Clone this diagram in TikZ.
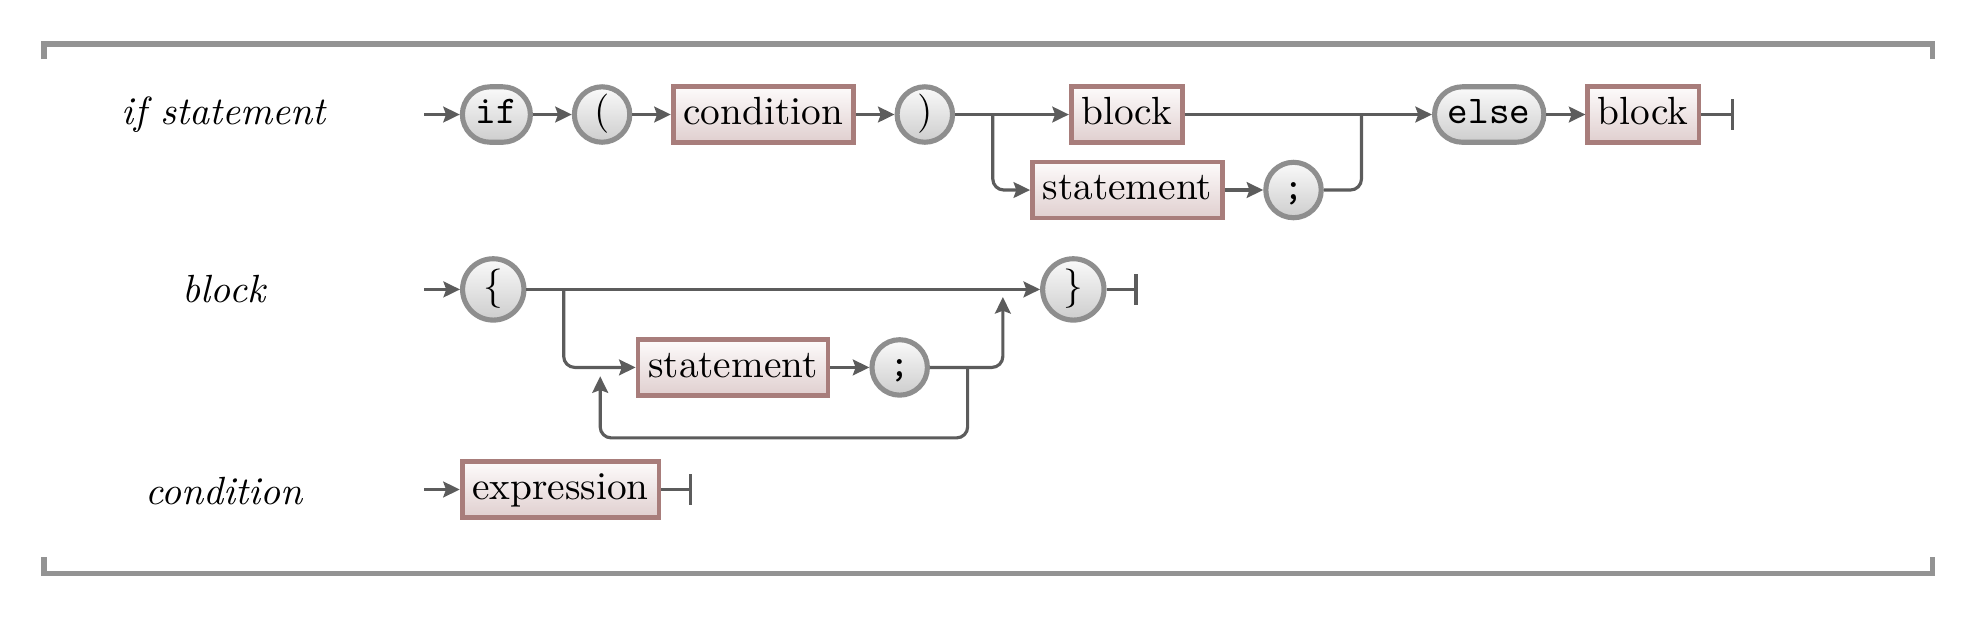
\documentclass[tikz,border=0pt]{standalone}
\usetikzlibrary{arrows.meta}
\definecolor{linec}{HTML}{5C5C5C}
\definecolor{framec}{HTML}{939393}
\definecolor{termborder}{HTML}{8E8E8E}
\definecolor{termtop}{HTML}{FAFAFA}
\definecolor{termbot}{HTML}{CDCDCD}
\definecolor{ntborder}{HTML}{A87D7B}
\definecolor{nttop}{HTML}{FDFBFB}
\definecolor{ntbot}{HTML}{E0CFCF}
\begin{document}
\begin{tikzpicture}[x=0.32pt,y=-0.32pt,
  term/.style={draw=termborder, line width=1.3pt, top color=termtop, bottom color=termbot,
    rounded corners=7.05pt, minimum height=14.1pt, minimum width=14.1pt,
    inner xsep=3.4pt, inner ysep=0pt, text height=6.5pt, text depth=1.8pt},
  bigterm/.style={term, rounded corners=7.8pt, minimum height=15.6pt, minimum width=15.6pt},
  nonterm/.style={draw=ntborder, line width=1.2pt, top color=nttop, bottom color=ntbot,
    minimum height=14.2pt, inner xsep=2.6pt, inner ysep=2.6pt,
    text height=6.94pt, text depth=1.94pt},
  rulename/.style={font=\itshape},
  conn/.style={draw=linec, line width=0.8pt},
  arr/.style={conn, -{Stealth[length=4.2pt,width=4pt,inset=0.7pt]}},
  endbar/.style={conn, -{Bar[width=7.7pt]}},
  frame/.style={draw=framec, line width=1.3pt},
  curvy/.style={rounded corners=2.8pt}]
\useasboundingbox (0,0) rectangle (1568,491);
% frame
\draw[frame] (35,47) -- (35,35) -- (1536,35) -- (1536,47);
\draw[frame] (35,443) -- (35,456) -- (1536,456) -- (1536,443);

% ---------- if statement ----------
\node[rulename] (n1) at (178,91) {if statement};
\coordinate (e1) at (337,91);
\node[term] (if) at (394.5,91) {\ttfamily if};
\node[term] (lp) at (478.5,91) {(};
\node[nonterm] (cond) at (606.5,91) {condition};
\node[term] (rp) at (735,91) {)};
\coordinate (b1) at (789,91);
\node[nonterm] (blk1) at (895.5,91) {block};
\node[nonterm] (stm1) at (896,151) {statement};
\node[term] (sc1) at (1028,151) {\ttfamily ;};
\coordinate (j1) at (1082,91);
\node[term] (else) at (1183.5,91) {\ttfamily else};
\node[nonterm] (blk2) at (1306,91) {block};
\coordinate (x1) at (1378,91);

\draw[arr] (e1) -- (if);
\draw[arr] (if) -- (lp);
\draw[arr] (lp) -- (cond);
\draw[arr] (cond) -- (rp);
\draw[arr] (rp) -- (blk1);
\draw[arr, curvy] (b1) |- (stm1);
\draw[arr] (stm1) -- (sc1);
\draw[conn, curvy] (sc1.east) -| (j1);
\draw[arr] (blk1) -- (else);
\draw[arr] (else) -- (blk2);
\draw[endbar] (blk2) -- (x1);

% ---------- block ----------
\node[rulename] (n2) at (178,230) {block};
\coordinate (e2) at (337,230);
\node[bigterm] (lb) at (392,230) {$\{$};
\node[bigterm] (rb) at (853,230) {$\}$};
\coordinate (x2) at (904,230);
\coordinate (b2) at (448,230);
\node[nonterm] (stm2) at (582.5,292) {statement};
\node[term] (sc2) at (715,292) {\ttfamily ;};
\coordinate (j2) at (797,236);
\coordinate (l1) at (769,292);
\coordinate (l2) at (769,348);
\coordinate (l3) at (477,348);
\coordinate (l4) at (477,299);

\draw[arr] (e2) -- (lb);
\draw[arr] (lb) -- (rb);
\draw[endbar] (rb) -- (x2);
\draw[arr, curvy] (b2) |- (stm2);
\draw[arr] (stm2) -- (sc2);
\draw[arr, curvy] (sc2.east) -| (j2);
\draw[arr, curvy] (l1) -- (l2) -- (l3) -- (l4);

% ---------- condition ----------
\node[rulename] (n3) at (178,390) {condition};
\coordinate (e3) at (337,389);
\node[nonterm] (expr) at (445.5,389) {expression};
\coordinate (x3) at (550,389);
\draw[arr] (e3) -- (expr);
\draw[endbar] (expr) -- (x3);
\end{tikzpicture}
\end{document}
